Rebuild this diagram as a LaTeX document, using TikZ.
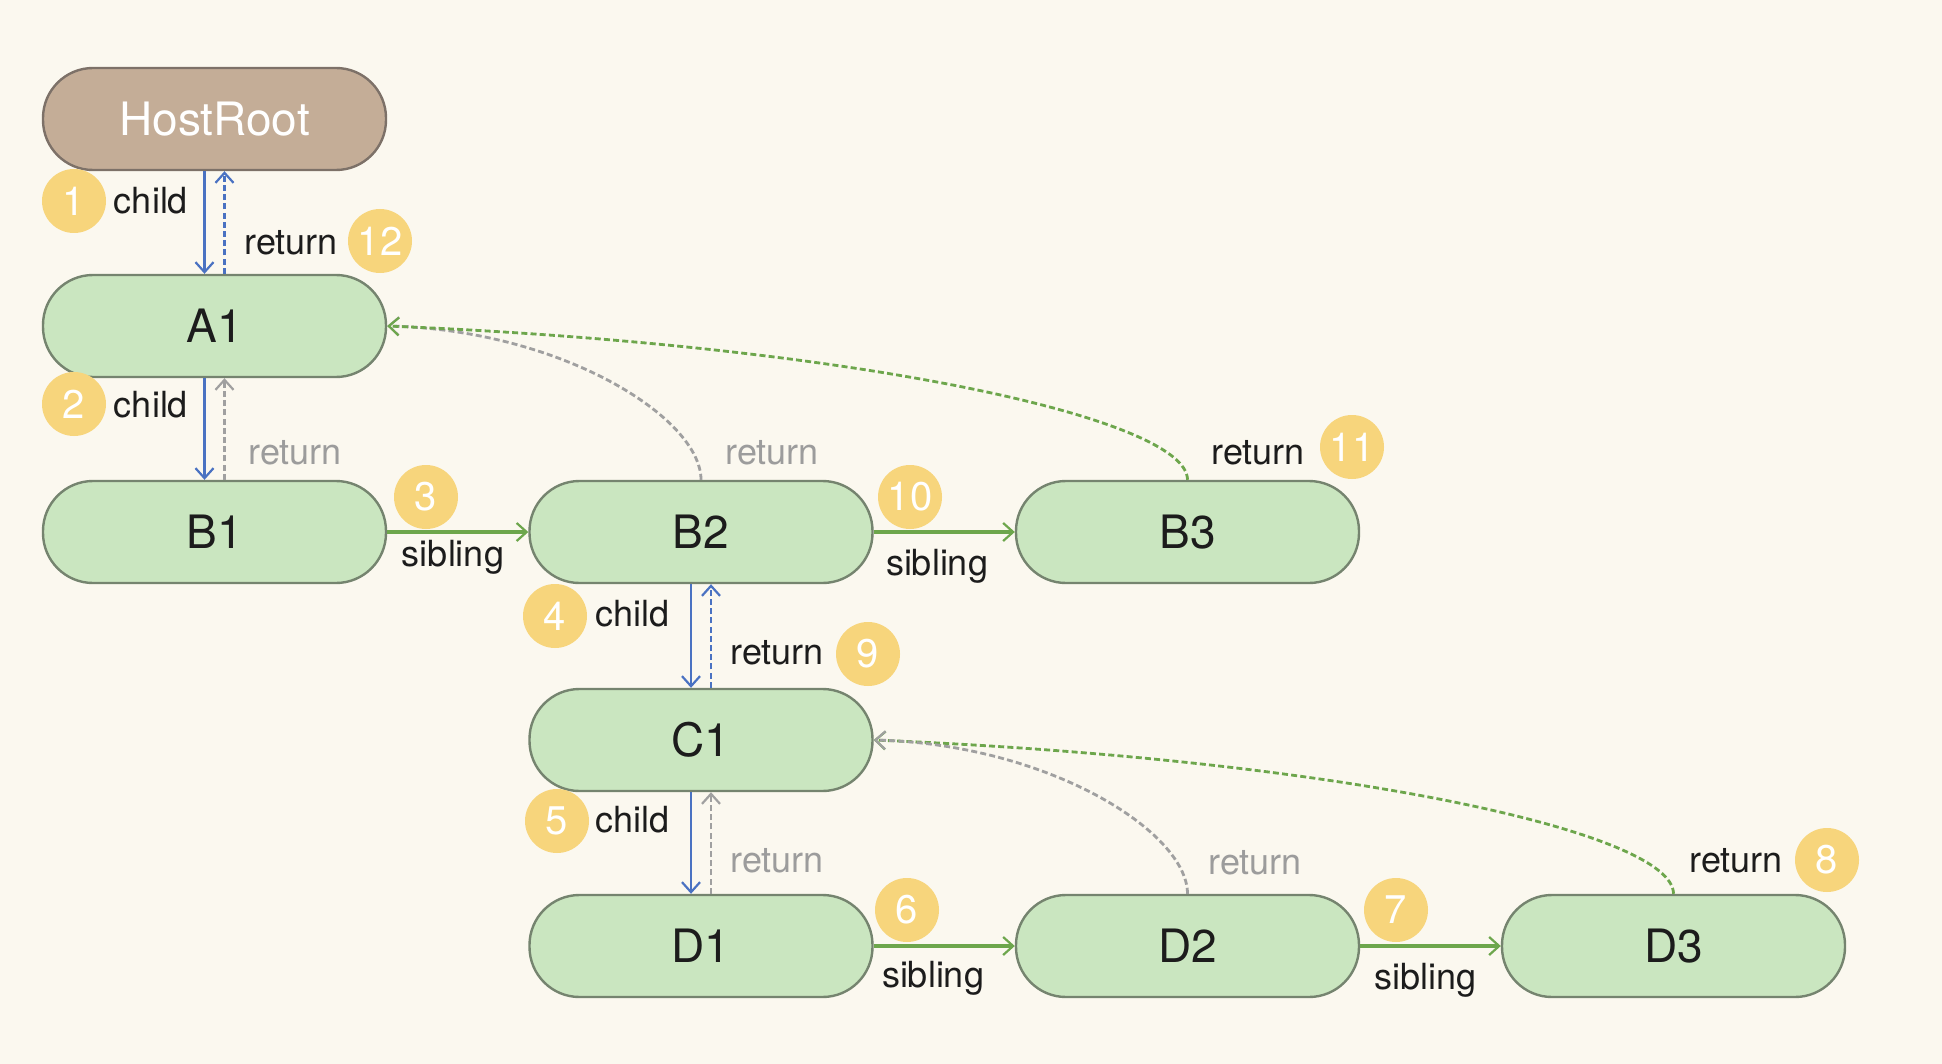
\documentclass[tikz,border=0pt]{standalone}
\usepackage{fontspec}
\setmainfont{TeX Gyre Heros}
\usetikzlibrary{arrows.meta}
\definecolor{bg}{HTML}{FBF8EF}
\definecolor{nodefill}{HTML}{CAE6C0}
\definecolor{nodeborder}{HTML}{75846F}
\definecolor{hostfill}{HTML}{C4AD97}
\definecolor{hostborder}{HTML}{7D7168}
\definecolor{badgefill}{HTML}{F7D57C}
\definecolor{bluearr}{HTML}{4A72C2}
\definecolor{greenarr}{HTML}{6DA64C}
\definecolor{grayarr}{HTML}{A0A0A0}
\definecolor{labeltext}{HTML}{1C1C1C}
\definecolor{graytext}{HTML}{9C9C9C}
\begin{document}
\begin{tikzpicture}[x=0.5pt,y=-0.5pt,
  fnode/.style={draw=nodeborder, line width=1.2pt, fill=nodefill, rounded corners=25pt,
    minimum width=171.5pt, minimum height=51pt, inner sep=0pt,
    font=\fontsize{23}{27}\selectfont, text=labeltext},
  hostnode/.style={fnode, fill=hostfill, draw=hostborder, text=white},
  badge/.style={circle, fill=badgefill, minimum size=32pt, inner sep=0pt, text=white,
    font=\fontsize{20}{24}\selectfont},
  lbl/.style={inner sep=0pt, font=\fontsize{18}{22}\selectfont, text=labeltext},
  glbl/.style={lbl, text=graytext},
  tip/.style={-{Straight Barb[length=5pt,width=9pt,line width=1.1pt]}},
  childarr/.style={draw=bluearr, line width=1.4pt, tip},
  retblue/.style={draw=bluearr, line width=1.4pt, dash pattern=on 3pt off 1.6pt, tip},
  retgray/.style={draw=grayarr, line width=1.4pt, dash pattern=on 3pt off 1.6pt, tip},
  retgreen/.style={draw=greenarr, line width=1.4pt, dash pattern=on 3pt off 1.6pt, tip},
  sibarr/.style={draw=greenarr, line width=1.6pt, tip}
]
\fill[bg] (0,0) rectangle (1942,1064);
\useasboundingbox (0,0) rectangle (1942,1064);

% nodes
\node[hostnode] (host) at (214.5,119) {HostRoot};
\node[fnode] (A1) at (214.5,326) {A1};
\node[fnode] (B1) at (214.5,532) {B1};
\node[fnode] (B2) at (701,532) {B2};
\node[fnode] (B3) at (1187.5,532) {B3};
\node[fnode] (C1) at (701,740) {C1};
\node[fnode] (D1) at (701,946) {D1};
\node[fnode] (D2) at (1187.5,946) {D2};
\node[fnode] (D3) at (1673.5,946) {D3};

% vertical child / return arrows
\draw[childarr] ([xshift=-5pt]host.south) -- ([xshift=-5pt]A1.north);
\draw[retblue] ([xshift=5pt]A1.north) -- ([xshift=5pt]host.south);
\draw[childarr] ([xshift=-5pt]A1.south) -- ([xshift=-5pt]B1.north);
\draw[retgray] ([xshift=5pt]B1.north) -- ([xshift=5pt]A1.south);
\draw[childarr] ([xshift=-5pt]B2.south) -- ([xshift=-5pt]C1.north);
\draw[retblue] ([xshift=5pt]C1.north) -- ([xshift=5pt]B2.south);
\draw[childarr] ([xshift=-5pt]C1.south) -- ([xshift=-5pt]D1.north);
\draw[retgray] ([xshift=5pt]D1.north) -- ([xshift=5pt]C1.south);

% sibling arrows
\draw[sibarr] (B1.east) -- (B2.west);
\draw[sibarr] (B2.east) -- (B3.west);
\draw[sibarr] (D1.east) -- (D2.west);
\draw[sibarr] (D2.east) -- (D3.west);

% curved returns
\draw[retgray] (B2.north) .. controls +(0,-62) and +(174,4) .. (A1.east);
\draw[retgreen] (B3.north) .. controls +(0,-62) and +(464,19) .. (A1.east);
\draw[retgreen] (D3.north) .. controls +(0,-62) and +(464,19) .. (C1.east);
\draw[retgray] (D2.north) .. controls +(0,-62) and +(174,4) .. (C1.east);

% labels
\node[lbl] (l1) at (151,201) {child};
\node[lbl] (l12) at (291,243) {return};
\node[lbl] (l2) at (151,405) {child};
\node[glbl] (lg1) at (295,453) {return};
\node[lbl] (ls1) at (453,557) {sibling};
\node[glbl] (lg2) at (772,453) {return};
\node[lbl] (ls2) at (937,566) {sibling};
\node[lbl] (l11) at (1258,453) {return};
\node[lbl] (l4) at (632,614) {child};
\node[lbl] (l9) at (777,653) {return};
\node[lbl] (l5) at (632,820) {child};
\node[glbl] (lg3) at (777,861) {return};
\node[glbl] (lg4) at (1255,863) {return};
\node[lbl] (ls3) at (933,978) {sibling};
\node[lbl] (ls4) at (1425,980) {sibling};
\node[lbl] (l8) at (1736,861) {return};

% badges
\node[badge] (b1) at (74,201) {1};
\node[badge] (b12) at (380,241) {12};
\node[badge] (b2) at (74,404) {2};
\node[badge] (b3) at (426,497) {3};
\node[badge] (b10) at (910,497) {10};
\node[badge] (b11) at (1352,447) {11};
\node[badge] (b4) at (555,616) {4};
\node[badge] (b9) at (868,654) {9};
\node[badge] (b5) at (557,821) {5};
\node[badge] (b6) at (907,910) {6};
\node[badge] (b7) at (1396,910) {7};
\node[badge] (b8) at (1827,860) {8};
\end{tikzpicture}
\end{document}
